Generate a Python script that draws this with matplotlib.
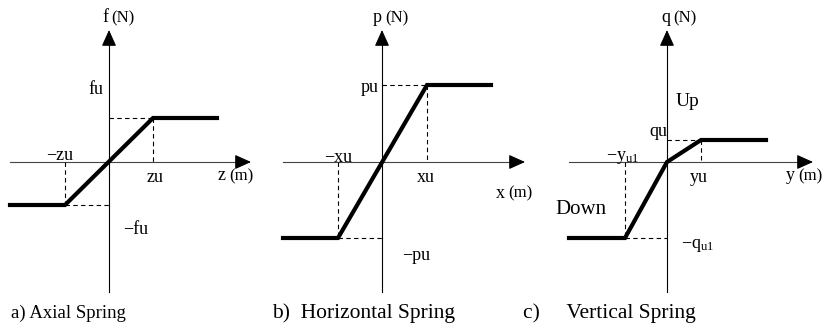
import matplotlib
matplotlib.use('Agg')
import matplotlib.pyplot as plt

plt.rcParams['mathtext.fontset'] = 'custom'
plt.rcParams['mathtext.rm'] = 'Liberation Serif'
plt.rcParams['mathtext.it'] = 'Liberation Serif'

# curve breakpoints (displacement, force), in pixel-like units from the origin
axial_x = [-99, -44, 44, 108]
axial_y = [-43, -43, 44, 44]
horiz_x = [-99, -44, 45, 109]
horiz_y = [-76, -76, 77, 77]
vert_x = [-98, -42, 0, 34, 99]
vert_y = [-76, -76, 0, 22, 22]

captions = ['a) Axial Spring', 'b)  Horizontal Spring', 'c)     Vertical Spring']

W, H = 825, 329
fig = plt.figure(figsize=(W / 100, H / 100), dpi=100)

serif = 'Liberation Serif'


def make_axes(x0, ox, oy=162):
    # one axes per panel, 1 data unit = 1 pixel, origin where the axes cross
    ax = fig.add_axes([x0 / W, 0, 275 / W, 1])
    ax.set_xlim(x0 - ox, x0 + 275 - ox)
    ax.set_ylim(oy - H, oy)
    ax.axis('off')
    return ax


def draw_frame(ax, xmin, xmax, ymin=-130, ymax=132):
    ax.plot([xmin, xmax - 8], [0, 0], color='#444444', lw=0.8)
    ax.plot([0, 0], [ymin, ymax - 8], color='black', lw=0.8)
    ax.annotate('', xy=(xmax, 0), xytext=(xmax - 14, 0),
                arrowprops=dict(arrowstyle='-|>,head_length=1.0,head_width=0.45',
                                color='black', lw=0.8, shrinkA=0, shrinkB=0))
    ax.annotate('', xy=(0, ymax), xytext=(0, ymax - 14),
                arrowprops=dict(arrowstyle='-|>,head_length=1.0,head_width=0.45',
                                color='black', lw=0.8, shrinkA=0, shrinkB=0))


def draw_guides(ax, xs, ys):
    dash = dict(color='black', lw=0.8, ls=(0, (4, 3)))
    # lower-left corner
    ax.plot([xs[1], xs[1]], [0, ys[1]], **dash)
    ax.plot([xs[1], 0], [ys[1], ys[1]], **dash)
    # upper-right corner
    ax.plot([0, xs[-2]], [ys[-2], ys[-2]], **dash)
    ax.plot([xs[-2], xs[-2]], [ys[-2], 0], **dash)


def label(ax, x, y, s, size=13, ha='center'):
    ax.text(x, y, s, fontsize=size, family=serif, ha=ha, va='center')


def axis_name(ax, x, y, sym, unit):
    ax.text(x, y, sym, fontsize=13, family=serif, ha='right', va='center')
    ax.text(x + 3, y, '(' + unit + ')', fontsize=12, family=serif, ha='left', va='center')


# a) axial spring
ax1 = make_axes(0, 109)
draw_frame(ax1, -99, 142)
draw_guides(ax1, axial_x, axial_y)
ax1.plot(axial_x, axial_y, color='black', lw=3, solid_joinstyle='miter')
axis_name(ax1, -1, 144, 'f', 'N')
label(ax1, -13, 73, 'fu')
label(ax1, -49, 7, '−zu')
label(ax1, 46, -16, 'zu')
axis_name(ax1, 117, -14, 'z', 'm')
label(ax1, 27, -68, '−fu')
ax1.text(-98, -151, captions[0], fontsize=13.5, family=serif, ha='left', va='center')

# b) horizontal spring
ax2 = make_axes(275, 382)
draw_frame(ax2, -99, 143)
draw_guides(ax2, horiz_x, horiz_y)
ax2.plot(horiz_x, horiz_y, color='black', lw=3, solid_joinstyle='miter')
axis_name(ax2, 0, 144, 'p', 'N')
label(ax2, -12, 74, 'pu')
label(ax2, -44, 5, '−xu')
label(ax2, 44, -16, 'xu')
axis_name(ax2, 123, -31, 'x', 'm')
label(ax2, 34, -93, '−pu')
ax2.text(-110, -151, captions[1], fontsize=15.5, family=serif, ha='left', va='center')

# c) vertical spring
ax3 = make_axes(550, 667)
draw_frame(ax3, -98, 146)
draw_guides(ax3, vert_x, vert_y)
ax3.plot(vert_x, vert_y, color='black', lw=3, solid_joinstyle='miter')
axis_name(ax3, 3, 144, 'q', 'N')
ax3.text(21, 61, 'Up', fontsize=14, family=serif, ha='center', va='center')
label(ax3, -9, 31, 'qu')
label(ax3, -44, 5, r'−y$_{\mathrm{u1}}$')
label(ax3, 32, -16, 'yu')
axis_name(ax3, 128, -14, 'y', 'm')
ax3.text(-86, -48, 'Down', fontsize=15, family=serif, ha='center', va='center')
label(ax3, 31, -83, r'−q$_{\mathrm{u1}}$')
ax3.text(-144, -151, captions[2], fontsize=15.5, family=serif, ha='left', va='center')

fig.savefig('out.png', dpi=100)
